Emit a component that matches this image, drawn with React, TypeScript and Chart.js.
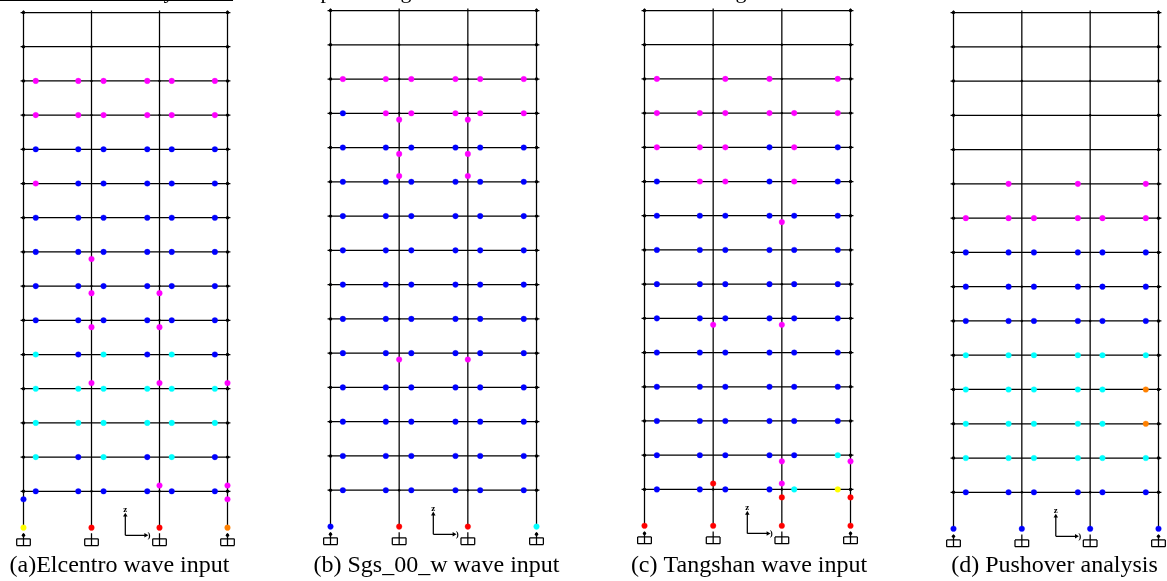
import React, { useEffect, useRef } from "react";
import { Chart, registerables } from "chart.js";

Chart.register(...registerables);

// Frame geometry, metres
const COLUMN_LINES = [0, 7, 14, 21];
const FLOOR_ELEVATIONS = [4.5, 8, 11.5, 15, 18.5, 22, 25.5, 29, 32.5, 36, 39.5, 43, 46.5, 50, 53.5];
const BEAM_HINGE_X = [1.26, 5.64, 8.24, 12.74, 15.26, 19.7];
const INTERIOR_NODE_FLOORS = [1, 6, 7, 12, 13, 14];
const BASE_HINGE_ELEVATION = 0.78;

// Hinge states by floor, top floor (15) first; one letter per beam hinge, "-" = no hinge
const BEAMS_A = ["------", "------", "MMMMMM", "MMMMMM", "BBBBBB", "MBBBBB", "BBBBBB", "BBBBBB", "BBBBBB", "BBBBBB", "CBCBCB", "CCCCCC", "CCCCCC", "CBCBCB", "BBBBBB"];
const BEAMS_B = ["------", "------", "MMMMMM", "BMMMMM", "BBBBBB", "BBBBBB", "BBBBBB", "BBBBBB", "BBBBBB", "BBBBBB", "BBBBBB", "BBBBBB", "BBBBBB", "BBBBBB", "BBBBBB"];
const BEAMS_C = ["------", "------", "M-MM-M", "MMMMMM", "MMMBMB", "BMMBMB", "BBBBBB", "BBBBBB", "BBBBBB", "BBBBBB", "BBBBBB", "BBBBBB", "BBBBBB", "BBBBBC", "BBBBCY"];
const BEAMS_D = ["------", "------", "------", "------", "------", "-M-M-M", "MMMMMM", "BBBBBB", "BBBBBB", "BBBBBB", "CCCCCC", "CCCCCO", "CCCCCO", "CCCCCC", "BBBBBB"];

// Column hinges: [column index, elevation, state]
const COLUMNS_A: [number, number, string][] = [
  [1, 28.28, "M"], [1, 24.78, "M"], [1, 21.3, "M"], [1, 15.58, "M"],
  [2, 24.78, "M"], [2, 21.3, "M"], [2, 15.58, "M"], [2, 5.1, "M"],
  [3, 15.58, "M"], [3, 5.1, "M"], [3, 3.68, "M"], [0, 3.68, "B"],
];
const COLUMNS_B: [number, number, string][] = [
  [1, 42.35, "M"], [1, 38.85, "M"], [1, 36.6, "M"], [1, 17.85, "M"],
  [2, 42.35, "M"], [2, 38.85, "M"], [2, 36.6, "M"], [2, 17.85, "M"],
];
const COLUMNS_C: [number, number, string][] = [
  [2, 31.85, "M"], [1, 21.35, "M"], [2, 21.35, "M"], [2, 7.37, "M"], [3, 7.37, "M"],
  [1, 5.1, "R"], [2, 5.1, "M"], [2, 3.68, "R"], [3, 3.68, "R"],
];
const COLUMNS_D: [number, number, string][] = [];

// Base hinge state per column
const BASE_A = "YRRO";
const BASE_B = "BRRC";
const BASE_C = "RRRR";
const BASE_D = "BBBB";

const CAPTIONS = ["(a)Elcentro wave input", "(b) Sgs_00_w wave input", "(c) Tangshan wave input", "(d) Pushover analysis"];
const STATE_COLORS: Record<string, string> = { M: "#ff00ff", B: "#0000ff", C: "#00ffff", R: "#ff0000", Y: "#ffff00", O: "#ff8000" };

// Triad and footing sizes, metres
const TRIAD_ORIGIN_X = 10.48;
const TRIAD_LENGTH_X = 2.1;
const TRIAD_LENGTH_Z = 2.05;
const FOOTING_HALF = 0.7;
const FOOTING_TOP = -0.36;
const FOOTING_BOTTOM = -1.05;

// The rule clipped at the top edge of the first panel
const TOP_RULE_X = [-2.42, 21.57];
const TOP_RULE_ELEVATION = 54.73;

const FONT = '"Liberation Serif", serif';

type PanelCfg = {
  left: number; width: number; col0: number; bay: number; floor1: number; floorTop: number;
  beams: string[]; columns: [number, number, string][]; base: string; caption: string;
  clipped: [string, number][]; rule?: boolean;
};

const PANELS: PanelCfg[] = [
  { left: 0, width: 239, col0: 23.5, bay: 68, floor1: 491.3, floorTop: 12.5, beams: BEAMS_A, columns: COLUMNS_A, base: BASE_A, caption: CAPTIONS[0], clipped: [["y", 169]], rule: true },
  { left: 300, width: 273, col0: 330.5, bay: 68.67, floor1: 490.2, floorTop: 10.5, beams: BEAMS_B, columns: COLUMNS_B, base: BASE_B, caption: CAPTIONS[1], clipped: [["p", 326], ["g", 406]] },
  { left: 625, width: 248, col0: 644.5, bay: 68.67, floor1: 489.4, floorTop: 10.5, beams: BEAMS_C, columns: COLUMNS_C, base: BASE_C, caption: CAPTIONS[2], clipped: [["g", 741]] },
  { left: 942, width: 225, col0: 953.5, bay: 68.33, floor1: 492.3, floorTop: 12.5, beams: BEAMS_D, columns: COLUMNS_D, base: BASE_D, caption: CAPTIONS[3], clipped: [] },
];

const GAP = { x: NaN, y: NaN };
const PAGE_H = 581;
const AREA_BOTTOM = 554;
const CAPTION_SIZE = 24;

function buildDatasets(p: PanelCfg) {
  const frame: { x: number; y: number }[] = [];
  const seg = (x1: number, y1: number, x2: number, y2: number) => {
    frame.push({ x: x1, y: y1 }, { x: x2, y: y2 }, GAP);
  };
  const top = FLOOR_ELEVATIONS[FLOOR_ELEVATIONS.length - 1];
  for (const e of FLOOR_ELEVATIONS) seg(COLUMN_LINES[0] - 0.3, e, COLUMN_LINES[3] + 0.3, e);
  for (const c of COLUMN_LINES) {
    seg(c, BASE_HINGE_ELEVATION, c, top + 0.2);
    seg(c, 0.2, c, -0.36);
    seg(c - FOOTING_HALF, FOOTING_TOP, c + FOOTING_HALF, FOOTING_TOP);
    seg(c + FOOTING_HALF, FOOTING_TOP, c + FOOTING_HALF, FOOTING_BOTTOM);
    seg(c + FOOTING_HALF, FOOTING_BOTTOM, c - FOOTING_HALF, FOOTING_BOTTOM);
    seg(c - FOOTING_HALF, FOOTING_BOTTOM, c - FOOTING_HALF, FOOTING_TOP);
    seg(c, FOOTING_TOP, c, FOOTING_BOTTOM);
  }
  seg(TRIAD_ORIGIN_X, TRIAD_LENGTH_Z, TRIAD_ORIGIN_X, 0);
  seg(TRIAD_ORIGIN_X, 0, TRIAD_ORIGIN_X + TRIAD_LENGTH_X, 0);
  if (p.rule) seg(TOP_RULE_X[0], TOP_RULE_ELEVATION, TOP_RULE_X[1], TOP_RULE_ELEVATION);

  const nodes: { x: number; y: number }[] = [];
  FLOOR_ELEVATIONS.forEach((e) => {
    nodes.push({ x: COLUMN_LINES[0], y: e }, { x: COLUMN_LINES[3], y: e });
  });
  nodes.push({ x: COLUMN_LINES[0], y: 0 }, { x: COLUMN_LINES[3], y: 0 });
  const innerNodes: { x: number; y: number }[] = [];
  INTERIOR_NODE_FLOORS.forEach((f) => {
    innerNodes.push({ x: COLUMN_LINES[1], y: FLOOR_ELEVATIONS[f - 1] }, { x: COLUMN_LINES[2], y: FLOOR_ELEVATIONS[f - 1] });
  });

  const hinges: Record<string, { x: number; y: number }[]> = {};
  const add = (s: string, x: number, y: number) => {
    (hinges[s] = hinges[s] || []).push({ x, y });
  };
  p.beams.forEach((row, i) => {
    const e = FLOOR_ELEVATIONS[FLOOR_ELEVATIONS.length - 1 - i];
    row.split("").forEach((s, j) => {
      if (s !== "-") add(s, BEAM_HINGE_X[j], e);
    });
  });
  p.columns.forEach(([c, e, s]) => add(s, COLUMN_LINES[c], e));
  p.base.split("").forEach((s, c) => add(s, COLUMN_LINES[c], BASE_HINGE_ELEVATION));

  const datasets: any[] = [
    { label: "frame", data: frame, showLine: true, borderColor: "#000", borderWidth: 1.25, pointRadius: 0, order: 5, clip: false },
    { label: "nodes", data: nodes, pointRadius: 1.7, pointBorderWidth: 0, pointBackgroundColor: "#000", order: 4, clip: false },
    { label: "inner nodes", data: innerNodes, pointRadius: 1.2, pointBorderWidth: 0, pointBackgroundColor: "#000", order: 4, clip: false },
    {
      label: "triad",
      data: [{ x: TRIAD_ORIGIN_X, y: TRIAD_LENGTH_Z }, { x: TRIAD_ORIGIN_X + TRIAD_LENGTH_X, y: 0 }],
      pointStyle: "triangle", pointRadius: 2.6, pointBorderWidth: 0, pointBackgroundColor: "#000",
      pointRotation: [0, 90], order: 4, clip: false,
    },
  ];
  Object.keys(hinges).forEach((s) => {
    datasets.push({
      label: s, data: hinges[s], pointRadius: 2.8, pointBorderWidth: 1,
      pointBackgroundColor: STATE_COLORS[s], pointBorderColor: STATE_COLORS[s] + "55", order: 1, clip: false,
    });
  });
  return datasets;
}

function Panel({ cfg }: { cfg: PanelCfg }) {
  const ref = useRef<HTMLCanvasElement>(null);
  useEffect(() => {
    const ppmX = cfg.bay / 7;
    const ppmY = (cfg.floor1 - cfg.floorTop) / 49;
    const elev = (px: number) => 4.5 + (cfg.floor1 - px) / ppmY;
    const labels = {
      id: "labels",
      afterDatasetsDraw(chart: any) {
        const { ctx, scales } = chart;
        ctx.save();
        ctx.fillStyle = "#000";
        ctx.textAlign = "center";
        ctx.textBaseline = "middle";
        ctx.font = `bold 9px ${FONT}`;
        ctx.fillText("z", scales.x.getPixelForValue(TRIAD_ORIGIN_X), scales.y.getPixelForValue(TRIAD_LENGTH_Z + 0.55));
        ctx.fillText(")", scales.x.getPixelForValue(TRIAD_ORIGIN_X + TRIAD_LENGTH_X + 0.35), scales.y.getPixelForValue(0));
        ctx.textBaseline = "alphabetic";
        ctx.font = `22px ${FONT}`;
        cfg.clipped.forEach(([t, px]) => ctx.fillText(t, px - cfg.left, -2));
        ctx.restore();
      },
    };
    const chart = new Chart(ref.current as HTMLCanvasElement, {
      type: "scatter",
      data: { datasets: buildDatasets(cfg) },
      plugins: [labels],
      options: {
        responsive: false,
        animation: false,
        devicePixelRatio: 1,
        events: [],
        layout: { padding: 0, autoPadding: false },
        plugins: {
          legend: { display: false },
          tooltip: { enabled: false },
          title: {
            display: true,
            text: cfg.caption,
            position: "bottom",
            color: "#000",
            font: { family: FONT, size: CAPTION_SIZE, weight: "normal", lineHeight: 1 },
            padding: { top: 0, bottom: PAGE_H - AREA_BOTTOM - CAPTION_SIZE },
          },
        },
        scales: {
          x: { type: "linear", display: false, min: (cfg.left - cfg.col0) / ppmX, max: (cfg.left + cfg.width - cfg.col0) / ppmX },
          y: { type: "linear", display: false, min: elev(AREA_BOTTOM), max: elev(0) },
        },
      },
    } as any);
    return () => chart.destroy();
  }, [cfg]);
  return (
    <canvas
      ref={ref}
      width={cfg.width}
      height={PAGE_H}
      style={{ position: "absolute", left: cfg.left, top: 0, width: cfg.width, height: PAGE_H, display: "block" }}
    />
  );
}

export default function App() {
  return (
    <div style={{ position: "absolute", left: 0, top: 0, width: 1167, height: PAGE_H, background: "#fff", overflow: "hidden" }}>
      {PANELS.map((p) => (
        <Panel key={p.caption} cfg={p} />
      ))}
    </div>
  );
}
